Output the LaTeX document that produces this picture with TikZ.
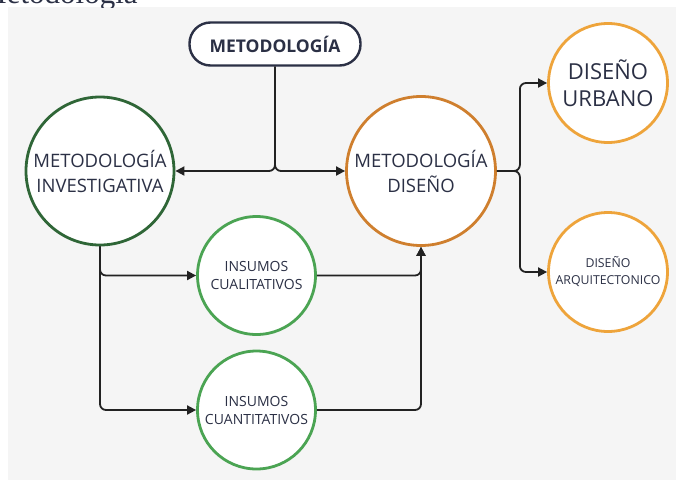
\documentclass[tikz,border=0pt]{standalone}
\usepackage{fontspec}
\setmainfont{Open Sans}
\newfontfamily\serifa{Liberation Serif}
\usetikzlibrary{arrows.meta}

\definecolor{fondo}{HTML}{F5F5F5}
\definecolor{texto}{HTML}{2B3045}
\definecolor{verdeosc}{HTML}{2F6637}
\definecolor{verde}{HTML}{4BA453}
\definecolor{cobre}{HTML}{CF7F2E}
\definecolor{naranja}{HTML}{EEA43B}
\definecolor{linea}{HTML}{222222}

\begin{document}
\begin{tikzpicture}[x=1pt,y=-1pt,
	every node/.style={text=texto, align=center, inner sep=0pt},
	circulo/.style={circle, fill=white, line width=2.8pt},
	flecha/.style={draw=linea, line width=1.8pt, rounded corners=6pt, -{Triangle[length=9pt,width=9pt]}}]

	\useasboundingbox (0,0) rectangle (676,480);
	\fill[fondo] (8,7) rectangle (676,480);
	\begin{scope}
		\clip (0,0) rectangle (150,7);
		\node[anchor=base west, font=\serifa\fontsize{31}{33}\selectfont] (titulo) at (-21,3) {Metodología};
	\end{scope}

	\node (metodologia) [draw=texto, fill=white, line width=2.4pt, rounded corners=21pt, minimum width=171pt, minimum height=43pt, font=\bfseries\fontsize{17.5}{20}\selectfont] at (275,44) {METODOLOGÍA};

	\node (investigativa) [circulo, draw=verdeosc, minimum size=148pt, font=\fontsize{18.5}{25}\selectfont] at (100,171) {METODOLOGÍA\\INVESTIGATIVA};
	\node (diseno) [circulo, draw=cobre, minimum size=149pt, font=\fontsize{18.5}{25}\selectfont] at (421,171) {METODOLOGÍA\\DISEÑO};

	\node (cualitativos) [circulo, draw=verde, minimum size=118pt, font=\fontsize{14}{18}\selectfont] at (256.5,275.5) {INSUMOS\\CUALITATIVOS};
	\node (cuantitativos) [circulo, draw=verde, minimum size=118pt, font=\fontsize{14}{18}\selectfont] at (256.5,410) {INSUMOS\\CUANTITATIVOS};

	\node (urbano) [circulo, draw=naranja, minimum size=119pt, font=\fontsize{22}{27}\selectfont] at (608,83) {DISEÑO\\URBANO};
	\node (arquitectonico) [circulo, draw=naranja, minimum size=119pt, font=\fontsize{12.3}{17}\selectfont] at (608,272) {DISEÑO\\ARQUITECTONICO};

	% conectores
	\draw[flecha] (metodologia.south) |- (investigativa.east);
	\draw[flecha] (metodologia.south) |- (diseno.west);

	\draw[flecha] (investigativa.south) |- (cualitativos.west);
	\draw[flecha] (investigativa.south) |- (cuantitativos.west);

	\draw[flecha] (cualitativos.east) -| (diseno.south);
	\draw[flecha] (cuantitativos.east) -| (diseno.south);

	\draw[flecha] (diseno.east) -- ++(23,0) |- (urbano.west);
	\draw[flecha] (diseno.east) -- ++(23,0) |- (arquitectonico.west);

\end{tikzpicture}
\end{document}
